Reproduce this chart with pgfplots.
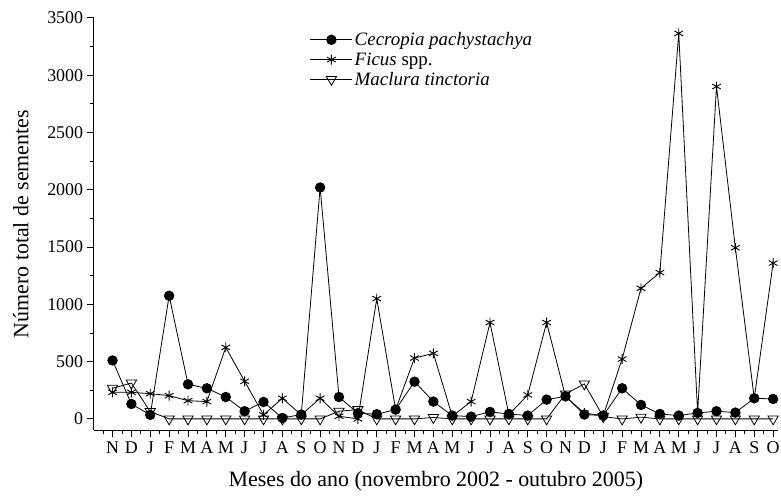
\documentclass[border=0pt]{standalone}
\usepackage{pgfplots}
\pgfplotsset{compat=1.18}
\usepackage{fontspec}
\setmainfont{Liberation Serif}
\begin{document}
\begin{tikzpicture}
\begin{axis}[
  name=ax,
  at={(0,0)}, anchor=south west,
  scale only axis,
  width=687pt, height=414pt,
  xmin=-1, xmax=35.26,
  ymin=-100, ymax=3500,
  axis x line*=bottom, axis y line*=left,
  axis line style={line width=0.9pt},
  tick align=outside,
  major tick length=7pt, minor tick length=4pt,
  every tick/.style={black, line width=0.9pt},
  xtick={0,...,35},
  minor xtick={-0.5,0.5,...,35.5},
  xticklabels={N,D,J,F,M,A,M,J,J,A,S,O,N,D,J,F,M,A,M,J,J,A,S,O,N,D,J,F,M,A,M,J,J,A,S,O},
  ytick={0,500,...,3500},
  minor ytick={250,750,...,3250},
  /pgf/number format/assume math mode=true,
  /pgf/number format/1000 sep={},
  tick label style={font=\fontsize{18}{20}\selectfont},
  xticklabel style={yshift=-1pt},
  xlabel={Meses do ano (novembro 2002 - outubro 2005)},
  ylabel={Número total de sementes},
  label style={font=\fontsize{22}{24}\selectfont},
  xlabel style={yshift=-11pt},
  ylabel style={yshift=12pt},
  legend style={draw=none, fill=none, at={(0.316,0.970)}, anchor=north west,
    font=\fontsize{19}{21}\selectfont, inner sep=0pt, row sep=1.5pt,
    legend cell align=left},
  legend image code/.code={\draw[mark repeat=2,mark phase=2] plot coordinates {(0pt,0pt)(21pt,0pt)(42pt,0pt)};},
]
\addplot[black, line width=0.8pt, mark=*, mark size=4.8pt] coordinates {
(0,510)(1,130)(2,35)(3,1075)(4,302)(5,267)(6,191)(7,67)(8,148)(9,8)(10,38)(11,2020)
(12,191)(13,49)(14,41)(15,81)(16,325)(17,151)(18,29)(19,20)(20,61)(21,43)(22,29)(23,168)
(24,197)(25,38)(26,29)(27,267)(28,122)(29,43)(30,29)(31,52)(32,67)(33,55)(34,180)(35,174)};
\addlegendentry{\textit{Cecropia pachystachya}}
\addplot[black, line width=0.8pt, mark=asterisk, mark size=5pt, mark options={line width=0.9pt}] coordinates {
(0,232)(1,232)(2,220)(3,203)(4,159)(5,151)(6,624)(7,328)(8,35)(9,180)(10,35)(11,180)
(12,23)(13,0)(14,1050)(15,81)(16,531)(17,572)(18,23)(19,151)(20,841)(21,38)(22,209)(23,841)
(24,195)(25,50)(26,29)(27,522)(28,1140)(29,1277)(30,3365)(31,55)(32,2901)(33,1494)(34,180)(35,1360)};
\addlegendentry{\textit{Ficus} spp.}
\addplot[black, line width=0.8pt, mark=triangle, mark size=6pt, mark options={rotate=180, fill=white, line width=0.8pt}] coordinates {
(0,267)(1,313)(2,64)(3,0)(4,0)(5,0)(6,0)(7,0)(8,0)(9,0)(10,0)(11,0)
(12,67)(13,81)(14,0)(15,0)(16,0)(17,12)(18,0)(19,0)(20,0)(21,0)(22,0)(23,0)
(24,218)(25,305)(26,20)(27,0)(28,15)(29,0)(30,0)(31,0)(32,0)(33,0)(34,0)(35,0)};
\addlegendentry{\textit{Maclura tinctoria}}
\end{axis}
\pgfresetboundingbox
\path[use as bounding box] (-94pt,-66pt) rectangle (690pt,432pt);
\end{tikzpicture}
\end{document}
